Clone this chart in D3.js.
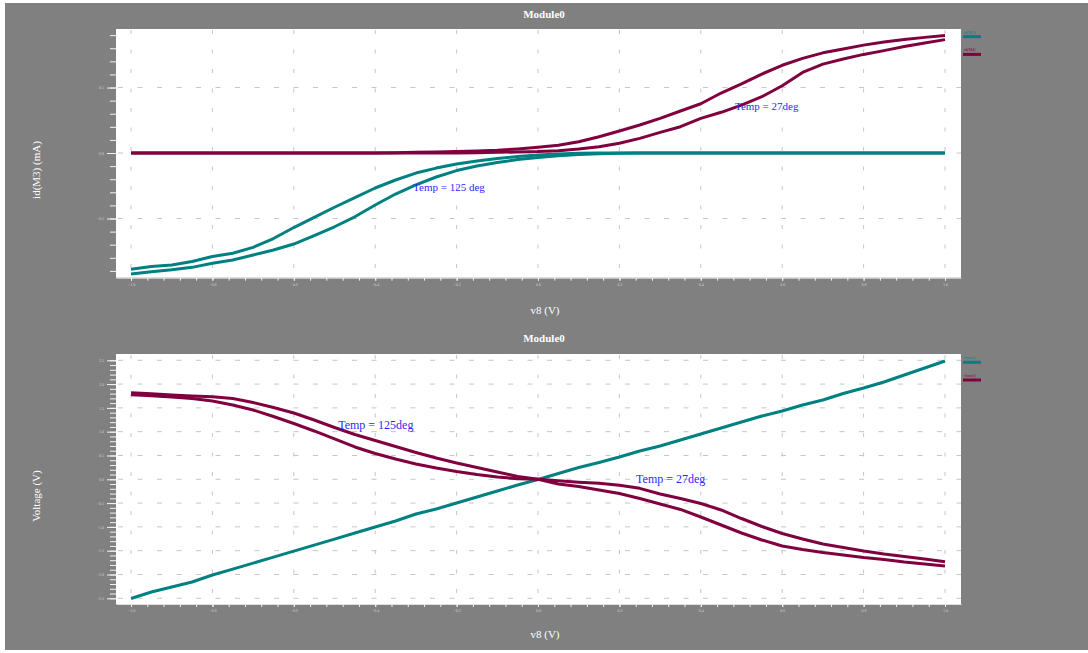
<!DOCTYPE html>
<html><head><meta charset="utf-8">
<script src="https://cdn.jsdelivr.net/npm/d3@7"></script>
<style>html,body{margin:0;padding:0;background:#fff;} svg{display:block;}</style>
</head><body><svg id="c" width="1088" height="653"></svg>
<script>
// ---- data ----
const v8 = [-1.00,-0.95,-0.90,-0.85,-0.80,-0.75,-0.70,-0.65,-0.60,-0.55,-0.50,-0.45,-0.40,-0.35,-0.30,-0.25,-0.20,-0.15,-0.10,-0.05,
            0.00,0.05,0.10,0.15,0.20,0.25,0.30,0.35,0.40,0.45,0.50,0.55,0.60,0.65,0.70,0.75,0.80,0.85,0.90,0.95,1.00];
const xTickLabels = [-1.0,-0.8,-0.6,-0.4,-0.2,0.0,0.2,0.4,0.6,0.8,1.0];
const yTicksTop = [-0.5,0.0,0.5];
const yTicksBottom = [-2.5,-2.0,-1.5,-1.0,-0.5,0.0,0.5,1.0,1.5,2.0,2.5];

// top chart: id(M3) (mA)
const idM3_125 = [-0.888,-0.866,-0.855,-0.828,-0.790,-0.765,-0.720,-0.653,-0.569,-0.492,-0.414,-0.341,-0.267,-0.206,-0.153,-0.115,-0.084,-0.061,-0.042,-0.027,
                  -0.015,-0.008,-0.002,0,0,0,0,0,0,0,0,0,0,0,0,0,0,0,0,0,0];
const idM3_27  = [-0.924,-0.906,-0.892,-0.873,-0.842,-0.817,-0.779,-0.740,-0.695,-0.631,-0.563,-0.487,-0.397,-0.313,-0.244,-0.183,-0.134,-0.099,-0.073,-0.050,
                  -0.034,-0.021,-0.011,-0.005,-0.001,0,0,0,0,0,0,0,0,0,0,0,0,0,0,0,0];
const idM4_125 = [0,0,0,0,0,0,0,0,0,0,0,0,0,0.003,0.005,0.008,0.011,0.015,0.021,0.031,
                  0.044,0.060,0.086,0.124,0.168,0.214,0.265,0.321,0.376,0.458,0.528,0.603,0.670,0.723,0.765,0.795,0.824,0.847,0.866,0.883,0.897];
const idM4_27  = [0,0,0,0,0,0,0,0,0,0,0,0,0,0,0,0,0,0.002,0.005,0.008,
                  0.011,0.018,0.031,0.048,0.074,0.112,0.158,0.201,0.265,0.311,0.366,0.430,0.514,0.615,0.679,0.718,0.753,0.782,0.813,0.840,0.866];

// bottom chart: Voltage (V)
const vOut1     = [-2.504,-2.368,-2.263,-2.158,-2.011,-1.887,-1.761,-1.634,-1.508,-1.382,-1.256,-1.128,-1.002,-0.876,-0.729,-0.624,-0.498,-0.372,-0.246,-0.120,
                   -0.004,0.122,0.248,0.353,0.468,0.595,0.700,0.826,0.952,1.078,1.204,1.330,1.435,1.561,1.666,1.803,1.918,2.044,2.191,2.338,2.485];
const vOut2_125 = [1.819,1.796,1.771,1.750,1.735,1.697,1.613,1.508,1.393,1.246,1.088,0.941,0.815,0.689,0.563,0.447,0.342,0.248,0.153,0.059,
                   0.000,-0.099,-0.151,-0.225,-0.298,-0.403,-0.519,-0.634,-0.792,-0.960,-1.128,-1.275,-1.401,-1.475,-1.538,-1.590,-1.643,-1.685,-1.737,-1.779,-1.821];
const vOut2_27  = [1.777,1.754,1.729,1.697,1.645,1.561,1.456,1.319,1.172,1.015,0.847,0.679,0.542,0.426,0.321,0.237,0.164,0.101,0.048,0.011,
                   0.000,-0.030,-0.060,-0.085,-0.125,-0.190,-0.309,-0.403,-0.508,-0.645,-0.824,-0.992,-1.139,-1.254,-1.359,-1.433,-1.506,-1.569,-1.622,-1.674,-1.731];

const TEAL = '#008080', MAROON = '#80003f';
const serif = '"Liberation Serif","Times New Roman",serif';

const svg = d3.select('#c');
svg.append('rect').attr('x',5).attr('y',3).attr('width',1083).attr('height',647).attr('fill','#808080');

function panel(cfg){
  const x = d3.scaleLinear().domain([-1.0369, 1.0393]).range([116, 961]);
  const y = d3.scaleLinear().domain(cfg.yDomain).range([cfg.bottom, cfg.top]);
  const g = svg.append('g');
  g.append('rect').attr('x',116).attr('y',cfg.top).attr('width',845).attr('height',cfg.bottom-cfg.top).attr('fill','#fff');

  // grid
  g.append('g').selectAll('line').data(xTickLabels).join('line')
    .attr('x1',d=>x(d)).attr('x2',d=>x(d)).attr('y1',cfg.top+1).attr('y2',cfg.bottom)
    .attr('stroke','#c6c6c6').attr('stroke-width',1).attr('stroke-dasharray','4,15.5');
  g.append('g').selectAll('line').data(cfg.yTicks).join('line')
    .attr('x1',118).attr('x2',961).attr('y1',d=>y(d)).attr('y2',d=>y(d))
    .attr('stroke','#c6c6c6').attr('stroke-width',1).attr('stroke-dasharray','5,14.5');

  // axes
  const styleAxis = sel => {
    sel.selectAll('.domain').attr('stroke','#e0e0e0');
    sel.selectAll('.tick line').attr('stroke','#f2f2f2');
    sel.selectAll('.tick text').attr('fill','#cfcfcf').attr('font-size',4).attr('font-family',serif);
  };
  const xMinor = d3.range(-1, 1.0001, 0.04);
  g.append('g').attr('transform',`translate(0,${cfg.bottom})`)
    .call(d3.axisBottom(x).tickValues(xMinor).tickSize(3).tickSizeOuter(0).tickFormat(''))
    .call(styleAxis);
  g.append('g').attr('transform',`translate(0,${cfg.bottom})`)
    .call(d3.axisBottom(x).tickValues(xTickLabels).tickSize(3).tickSizeOuter(0).tickPadding(2).tickFormat(d3.format('.1f')))
    .call(styleAxis).call(s=>s.select('.domain').remove());
  const yMinor = d3.range(cfg.yMinor[0], cfg.yMinor[1]+0.0001, 0.1);
  g.append('g').attr('transform','translate(116,0)')
    .call(d3.axisLeft(y).tickValues(yMinor).tickSize(6).tickSizeOuter(0).tickFormat(''))
    .call(styleAxis).call(s=>s.select('.domain').remove());
  g.append('g').attr('transform','translate(116,0)')
    .call(d3.axisLeft(y).tickValues(cfg.yTicks).tickSize(9).tickSizeOuter(0).tickPadding(3).tickFormat(d3.format('.1f')))
    .call(styleAxis).call(s=>s.select('.domain').remove());

  // lines
  const line = d3.line().x((d,i)=>x(v8[i])).y(d=>y(d));
  cfg.series.forEach(s=>{
    g.append('path').datum(s.values).attr('d',line).attr('fill','none')
      .attr('stroke',s.color).attr('stroke-width',3).attr('stroke-linejoin','round');
  });

  // legend
  cfg.legend.forEach((s,i)=>{
    const ly = cfg.legendY[i];
    g.append('line').attr('x1',963).attr('x2',981).attr('y1',ly).attr('y2',ly).attr('stroke',s.color).attr('stroke-width',3);
    g.append('text').attr('x',964).attr('y',ly-3).attr('font-size',4).attr('font-family',serif).attr('fill',s.color).text(s.name);
  });

  // annotations
  cfg.notes.forEach(n=>{
    g.append('text').attr('x',x(n.x)).attr('y',y(n.y)).attr('font-size',n.size).attr('font-family',serif)
      .attr('fill','#2a2aff').text(n.text);
  });

  // titles
  g.append('text').attr('x',544).attr('y',cfg.titleY).attr('text-anchor','middle').attr('font-size',11)
    .attr('font-weight','bold').attr('font-family',serif).attr('fill','#fff').text('Module0');
  g.append('text').attr('x',545).attr('y',cfg.xLabelY).attr('text-anchor','middle').attr('font-size',11)
    .attr('font-family',serif).attr('fill','#fff').text('v8 (V)');
  g.append('text').attr('transform',`translate(40,${cfg.yLabelMid}) rotate(-90)`).attr('text-anchor','middle')
    .attr('font-size',11).attr('font-family',serif).attr('fill','#fff').text(cfg.yLabel);
}

panel({
  top:29, bottom:277.7, yDomain:[-0.952,0.947], yTicks:yTicksTop, yMinor:[-0.9,0.9],
  series:[{values:idM3_125,color:TEAL},{values:idM3_27,color:TEAL},{values:idM4_125,color:MAROON},{values:idM4_27,color:MAROON}],
  legend:[{name:'id(M3)',color:TEAL},{name:'id(M4)',color:MAROON}], legendY:[36.6,54.4],
  notes:[{text:'Temp = 125 deg',x:-0.307,y:-0.288,size:11},{text:'Temp = 27deg',x:0.484,y:0.328,size:11}],
  titleY:18, xLabelY:314, yLabel:'id(M3) (mA)', yLabelMid:170
});
panel({
  top:354, bottom:604, yDomain:[-2.620,2.632], yTicks:yTicksBottom, yMinor:[-2.5,2.5],
  series:[{values:vOut1,color:TEAL},{values:vOut2_125,color:MAROON},{values:vOut2_27,color:MAROON}],
  legend:[{name:'v(out1)',color:TEAL},{name:'v(out2)',color:MAROON}], legendY:[362.3,380],
  notes:[{text:'Temp = 125deg',x:-0.491,y:1.057,size:12},{text:'Temp = 27deg',x:0.241,y:-0.077,size:12}],
  titleY:342, xLabelY:638, yLabel:'Voltage (V)', yLabelMid:496
});
</script></body></html>
